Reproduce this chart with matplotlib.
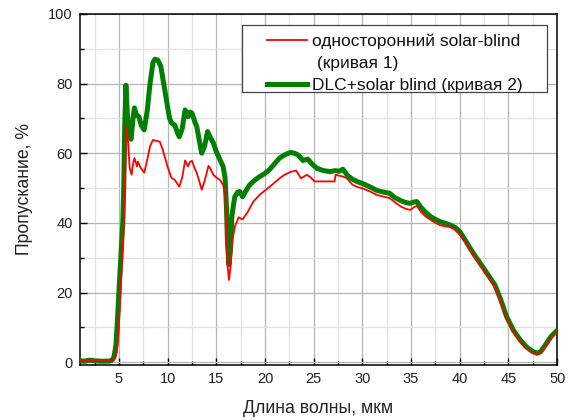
import matplotlib
matplotlib.use("Agg")
import matplotlib.pyplot as plt
from matplotlib.ticker import MultipleLocator
from matplotlib.lines import Line2D
from matplotlib.patches import Rectangle

plt.rcParams['font.family'] = ['Liberation Sans', 'DejaVu Sans']

# Curve 2: DLC + solar blind
x2 = [1.0, 1.5, 2.0, 2.5, 3.0, 3.5, 4.0, 4.3, 4.5, 4.7, 4.85, 5.0, 5.2, 5.4, 5.5, 5.6,
      5.72, 5.85, 6.0, 6.25, 6.45, 6.6, 6.8, 7.05, 7.3, 7.6, 7.9, 8.2, 8.5, 8.7, 9.0,
      9.3, 9.6, 9.9, 10.2, 10.4, 10.75, 11.0, 11.2, 11.5, 11.8, 12.1, 12.3, 12.5, 12.8,
      13.0, 13.3, 13.5, 13.8, 14.1, 14.4, 14.7, 15.0, 15.4, 15.7, 15.9, 16.05, 16.15,
      16.3, 16.45, 16.6, 16.9, 17.2, 17.4, 17.7, 18.0, 18.4, 18.8, 19.3, 20.0, 20.5,
      21.0, 21.5, 22.0, 22.6, 23.0, 23.4, 23.9, 24.4, 24.8, 25.3, 26.0, 26.7, 27.2,
      27.6, 28.0, 28.5, 29.0, 29.5, 30.1, 30.8, 31.5, 32.2, 32.8, 33.3, 34.0, 34.5,
      34.9, 35.3, 35.6, 36.0, 36.5, 37.0, 37.5, 38.0, 38.5, 39.0, 39.5, 40.0, 40.5,
      41.0, 41.5, 42.1, 42.8, 43.6, 44.2, 44.8, 45.5, 46.2, 46.8, 47.4, 47.9, 48.3,
      48.9, 49.4, 50.0]
y2 = [0.4, 0.3, 0.6, 0.4, 0.3, 0.3, 0.3, 0.6, 1.5, 5, 12, 20, 30, 40, 50, 68,
      79.5, 72, 66, 64, 70, 73, 71, 70.5, 68, 66.7, 72, 80, 86, 87, 86.7,
      85, 80, 75, 70, 68.7, 68, 66, 64.7, 67, 72.4, 70.5, 71.8, 71.5, 69,
      67.6, 63, 60, 62, 66.2, 64.5, 62.9, 60.5, 58, 56.2, 53, 44, 34,
      28, 32, 42, 47.5, 48.8, 49, 47.5, 49, 50.8, 51.9, 53, 54.2, 55.4,
      57, 58.6, 59.5, 60.2, 60, 59.5, 57.9, 58.3, 57, 55.7, 55, 54.7, 55,
      54.8, 55.4, 53.5, 52.5, 51.8, 51.2, 50.3, 49.3, 48.8, 48.5, 47.3, 46.3, 45.8,
      45.6, 46, 46.1, 44.5, 43, 41.8, 41, 40.3, 39.9, 39.4, 38.7, 37.5, 35.3,
      33, 30.8, 28.4, 25.5, 22.2, 18, 13.1, 9.2, 6.4, 4.5, 3.2, 2.6, 3,
      5.4, 7.5, 9.1]

# Curve 1: single-sided solar-blind
x1 = [1.0, 1.5, 2.0, 2.5, 3.0, 3.5, 4.0, 4.3, 4.6, 4.8, 5.0, 5.2, 5.4, 5.5, 5.6, 5.7,
      5.8, 5.95, 6.1, 6.3, 6.45, 6.6, 6.85, 6.95, 7.2, 7.6, 7.9, 8.2, 8.5, 8.9, 9.2,
      9.5, 10.0, 10.4, 10.75, 11.2, 11.5, 11.8, 12.1, 12.3, 12.5, 12.8, 13.0, 13.3,
      13.5, 13.8, 14.2, 14.4, 14.7, 15.0, 15.4, 15.7, 15.9, 16.05, 16.15, 16.3, 16.45,
      16.6, 16.9, 17.3, 17.7, 18.2, 18.8, 19.5, 20.5, 21.0, 21.5, 22.0, 22.7, 23.2,
      23.7, 24.3, 24.7, 25.1, 26.0, 27.15, 27.25, 28.0, 28.4, 29.0, 29.5, 30.1, 30.8,
      31.5, 32.2, 32.8, 33.3, 34.0, 34.5, 34.9, 35.3, 35.6, 36.0, 36.5, 37.0, 37.5,
      38.0, 38.5, 39.0, 39.5, 40.0, 40.5, 41.0, 41.5, 42.1, 42.8, 43.6, 44.2, 44.8,
      45.5, 46.2, 46.8, 47.4, 47.9, 48.3, 48.9, 49.4, 50.0]
y1 = [0.4, 0.3, 0.6, 0.4, 0.3, 0.3, 0.3, 0.5, 1.2, 3, 10, 22, 33, 40, 50, 60,
      67.6, 63, 56, 53.8, 57, 58.6, 56.2, 57.6, 56, 54.4, 58, 62, 63.8, 63.5, 63.3,
      61, 56.1, 52.9, 52.3, 50.4, 53, 57.9, 56.2, 57.5, 57.8, 55.5, 54.3, 51.5,
      49.5, 52, 56.4, 55.5, 53.8, 53, 52.3, 50.9, 48, 38, 28, 23.6, 27,
      34, 38.9, 41.6, 41.0, 43, 46.1, 48.2, 50.4, 51.6, 52.8, 53.8, 54.7, 55,
      52.8, 53.8, 53, 51.9, 51.9, 51.9, 53.8, 53.3, 52.8, 50.9, 50.3, 49.8, 49,
      48, 47.5, 47.1, 46, 44.6, 44, 43.7, 44.5, 44.9, 43.2, 41.8, 40.9, 40,
      39.3, 39, 38.8, 38, 36.6, 34.8, 32.5, 30.3, 27.9, 25, 21.7, 17.5, 12.6,
      8.7, 5.9, 4.0, 2.8, 2.2, 2.6, 5.0, 7.0, 8.7]

label1_line1 = "односторонний solar-blind"
label1_line2 = " (кривая 1)"
label2 = "DLC+solar blind (кривая 2)"
xlabel = "Длина волны, мкм"
ylabel = "Пропускание, %"

RED = '#ff0000'
GREEN = '#007f00'

fig = plt.figure(figsize=(5.75, 4.2), dpi=100)
ax = fig.add_axes([0.139, 0.131, 0.830, 0.836])

ax.plot(x2, y2, color=GREEN, lw=3.6, zorder=3, solid_joinstyle='round')
ax.plot(x1, y1, color=RED, lw=1.3, zorder=4)

ax.set_xlim(1, 50)
ax.set_ylim(-0.8, 100)
ax.xaxis.set_major_locator(MultipleLocator(5))
ax.xaxis.set_minor_locator(MultipleLocator(2.5))
ax.yaxis.set_major_locator(MultipleLocator(20))
ax.yaxis.set_minor_locator(MultipleLocator(10))
ax.grid(True, which='major', color='#b4b4b4', lw=0.9)
ax.grid(True, which='minor', color='#e2e2e2', lw=0.9)
ax.set_axisbelow(True)
ax.tick_params(which='both', direction='in', labelsize=10.5, colors='#000000', labelcolor='#222222')
ax.tick_params(which='major', length=5, width=1, pad=5)
ax.tick_params(which='minor', length=3, width=1)
for s in ax.spines.values():
    s.set_linewidth(1.1)

ax.set_xlabel(xlabel, fontsize=12.7, color='#222222', labelpad=10)
ax.set_ylabel(ylabel, fontsize=12.7, color='#222222', labelpad=11)

# legend frame
frame = Rectangle((0.340, 0.778), 0.979 - 0.340, 0.969 - 0.778, transform=ax.transAxes,
                  facecolor='white', edgecolor='#444444', lw=0.9, zorder=5)
ax.add_patch(frame)

handles = [Line2D([], [], color=RED, lw=1.3),
           Line2D([], [], color='none', lw=0),
           Line2D([], [], color=GREEN, lw=3.6)]
labels = [label1_line1, label1_line2, label2]
leg = ax.legend(handles, labels, loc='upper right', bbox_to_anchor=(0.927, 0.943),
                fontsize=12.5, frameon=False, handlelength=2.3, borderpad=0,
                labelspacing=0.38, handletextpad=0.25, borderaxespad=0)
leg.set_zorder(6)
for t in leg.get_texts():
    t.set_color('#111111')

fig.savefig('out.png', dpi=100)
